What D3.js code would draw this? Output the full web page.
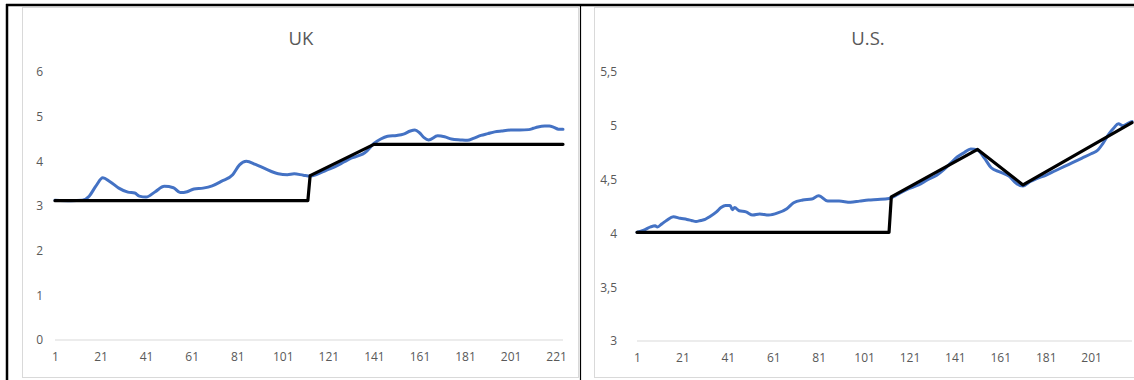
<!DOCTYPE html>
<html>
<head>
<meta charset="utf-8">
<script src="https://cdn.jsdelivr.net/npm/d3@7"></script>
<style>
  body { margin: 0; background: #fff; }
  svg text { font-family: "Open Sans", "Noto Sans", sans-serif; fill: #595959; }
</style>
</head>
<body>
<div id="chart"></div>
<script>
// --- UK data ---
const ukIdx = [1, 8, 13, 16, 19, 22, 25, 29, 33, 36, 38, 41, 45, 49, 53, 56, 59, 62, 66, 70, 74, 79, 82, 85, 89, 93, 99, 103, 106, 110, 113, 116, 120, 124, 128, 131, 134, 137, 141, 144, 147, 151, 154, 157, 159, 161, 163, 165, 169, 172, 175, 179, 182, 185, 188, 191, 194, 197, 201, 205, 209, 211, 213, 216, 218, 220, 222, 224];
const ukActual = [3.13, 3.12, 3.13, 3.22, 3.45, 3.63, 3.55, 3.40, 3.31, 3.29, 3.22, 3.20, 3.32, 3.44, 3.41, 3.30, 3.32, 3.38, 3.40, 3.45, 3.55, 3.70, 3.92, 4.00, 3.93, 3.84, 3.72, 3.70, 3.72, 3.69, 3.67, 3.71, 3.80, 3.88, 3.99, 4.07, 4.12, 4.19, 4.40, 4.50, 4.56, 4.58, 4.61, 4.68, 4.70, 4.64, 4.53, 4.48, 4.57, 4.55, 4.50, 4.48, 4.47, 4.52, 4.58, 4.62, 4.66, 4.68, 4.70, 4.70, 4.71, 4.74, 4.77, 4.79, 4.79, 4.76, 4.72, 4.72];
const ukTrendIdx = [1, 112, 113, 141, 224];
const ukTrend = [3.12, 3.12, 3.68, 4.38, 4.38];
const ukYTicks = [0, 1, 2, 3, 4, 5, 6];
const ukXTicks = [1, 21, 41, 61, 81, 101, 121, 141, 161, 181, 201, 221];

// --- U.S. data ---
const usIdx = [1, 4, 7, 9, 10, 12, 14, 17, 20, 23, 25, 27, 29, 31, 33, 36, 38, 40, 42, 43, 44, 46, 49, 52, 55, 59, 63, 67, 70, 74, 78, 81, 85, 90, 95, 99, 103, 107, 112, 116, 120, 125, 129, 133, 136, 139, 142, 145, 148, 151, 154, 157, 161, 165, 168, 171, 174, 177, 181, 185, 189, 193, 197, 201, 204, 206, 209, 211, 213, 215, 217, 219];
const usActual = [4.01, 4.03, 4.06, 4.07, 4.06, 4.09, 4.12, 4.155, 4.14, 4.13, 4.12, 4.11, 4.12, 4.13, 4.155, 4.20, 4.24, 4.26, 4.26, 4.22, 4.24, 4.21, 4.20, 4.17, 4.18, 4.17, 4.19, 4.23, 4.285, 4.31, 4.32, 4.35, 4.30, 4.30, 4.29, 4.30, 4.31, 4.315, 4.325, 4.365, 4.41, 4.45, 4.50, 4.54, 4.59, 4.65, 4.71, 4.75, 4.785, 4.775, 4.70, 4.61, 4.57, 4.53, 4.465, 4.44, 4.48, 4.51, 4.54, 4.58, 4.62, 4.66, 4.70, 4.74, 4.775, 4.83, 4.93, 4.98, 5.02, 5.00, 5.02, 5.04];
const usTrendIdx = [1, 112, 113, 151, 171, 219];
const usTrend = [4.01, 4.01, 4.34, 4.78, 4.45, 5.03];
const usYTicks = [3, 3.5, 4, 4.5, 5, 5.5];
const usXTicks = [1, 21, 41, 61, 81, 101, 121, 141, 161, 181, 201];

const W = 1134, H = 380;
const svg = d3.select("#chart").append("svg").attr("width", W).attr("height", H);

// --- panel frames (light grey chart borders) ---
svg.append("rect").attr("x", 22.5).attr("y", 7.5).attr("width", 556).attr("height", 370)
  .attr("fill", "none").attr("stroke", "#d9d9d9");
svg.append("rect").attr("x", 594.5).attr("y", 7.5).attr("width", 600).attr("height", 370)
  .attr("fill", "none").attr("stroke", "#d9d9d9");

// --- table lines (black) ---
svg.append("line").attr("x1", 6).attr("x2", W).attr("y1", 5).attr("y2", 5)
  .attr("stroke", "#000").attr("stroke-width", 2.5);
svg.append("line").attr("x1", 7).attr("x2", 7).attr("y1", 4).attr("y2", H)
  .attr("stroke", "#000").attr("stroke-width", 2.5);
svg.append("line").attr("x1", 580.5).attr("x2", 580.5).attr("y1", 5).attr("y2", H)
  .attr("stroke", "#000").attr("stroke-width", 1.2);

function drawPanel(opts) {
  const x = d3.scaleLinear().domain(opts.xDomain).range(opts.xRange);
  const y = d3.scaleLinear().domain(opts.yDomain).range(opts.yRange);
  const g = svg.append("g");

  // Title
  g.append("text")
    .attr("x", opts.titleX).attr("y", 45)
    .attr("text-anchor", "middle")
    .style("font-size", "18.5px")
    .text(opts.title);

  // Baseline gridline
  g.append("line")
    .attr("x1", opts.xRange[0]).attr("x2", opts.xRange[1])
    .attr("y1", y(opts.yDomain[0])).attr("y2", y(opts.yDomain[0]))
    .attr("stroke", "#d9d9d9").attr("stroke-width", 1.2);

  // Y axis labels
  const yAxis = g.append("g")
    .attr("transform", `translate(${opts.yLabelX},0)`)
    .call(d3.axisLeft(y).tickValues(opts.yTicks).tickSize(0).tickPadding(0)
      .tickFormat(d => String(d).replace(".", ",")));
  yAxis.select(".domain").remove();
  yAxis.selectAll("text").style("font-size", "12px").attr("fill", "#595959");

  // X axis labels
  const xAxis = g.append("g")
    .attr("transform", `translate(0,${y(opts.yDomain[0]) + 10})`)
    .call(d3.axisBottom(x).tickValues(opts.xTicks).tickSize(0).tickPadding(2));
  xAxis.select(".domain").remove();
  xAxis.selectAll("text").style("font-size", "12px").attr("fill", "#595959");

  // Actual series
  const blueLine = d3.line()
    .x(d => x(d[0])).y(d => y(d[1]))
    .curve(d3.curveMonotoneX);
  g.append("path")
    .datum(d3.zip(opts.idx, opts.actual))
    .attr("fill", "none").attr("stroke", "#4472c4")
    .attr("stroke-width", 3).attr("stroke-linejoin", "round").attr("stroke-linecap", "round")
    .attr("d", blueLine);

  // Trend series
  const blackLine = d3.line().x(d => x(d[0])).y(d => y(d[1]));
  g.append("path")
    .datum(d3.zip(opts.trendIdx, opts.trend))
    .attr("fill", "none").attr("stroke", "#000")
    .attr("stroke-width", 3.2).attr("stroke-linejoin", "round").attr("stroke-linecap", "round")
    .attr("d", blackLine);
}

drawPanel({
  title: "UK", titleX: 301,
  xDomain: [1, 224], xRange: [55, 563],
  yDomain: [0, 6], yRange: [340, 72],
  yLabelX: 43,
  yTicks: ukYTicks, xTicks: ukXTicks,
  idx: ukIdx, actual: ukActual,
  trendIdx: ukTrendIdx, trend: ukTrend
});

drawPanel({
  title: "U.S.", titleX: 868,
  xDomain: [1, 219], xRange: [637, 1132],
  yDomain: [3, 5.5], yRange: [341, 72],
  yLabelX: 617,
  yTicks: usYTicks, xTicks: usXTicks,
  idx: usIdx, actual: usActual,
  trendIdx: usTrendIdx, trend: usTrend
});
</script>
</body>
</html>
